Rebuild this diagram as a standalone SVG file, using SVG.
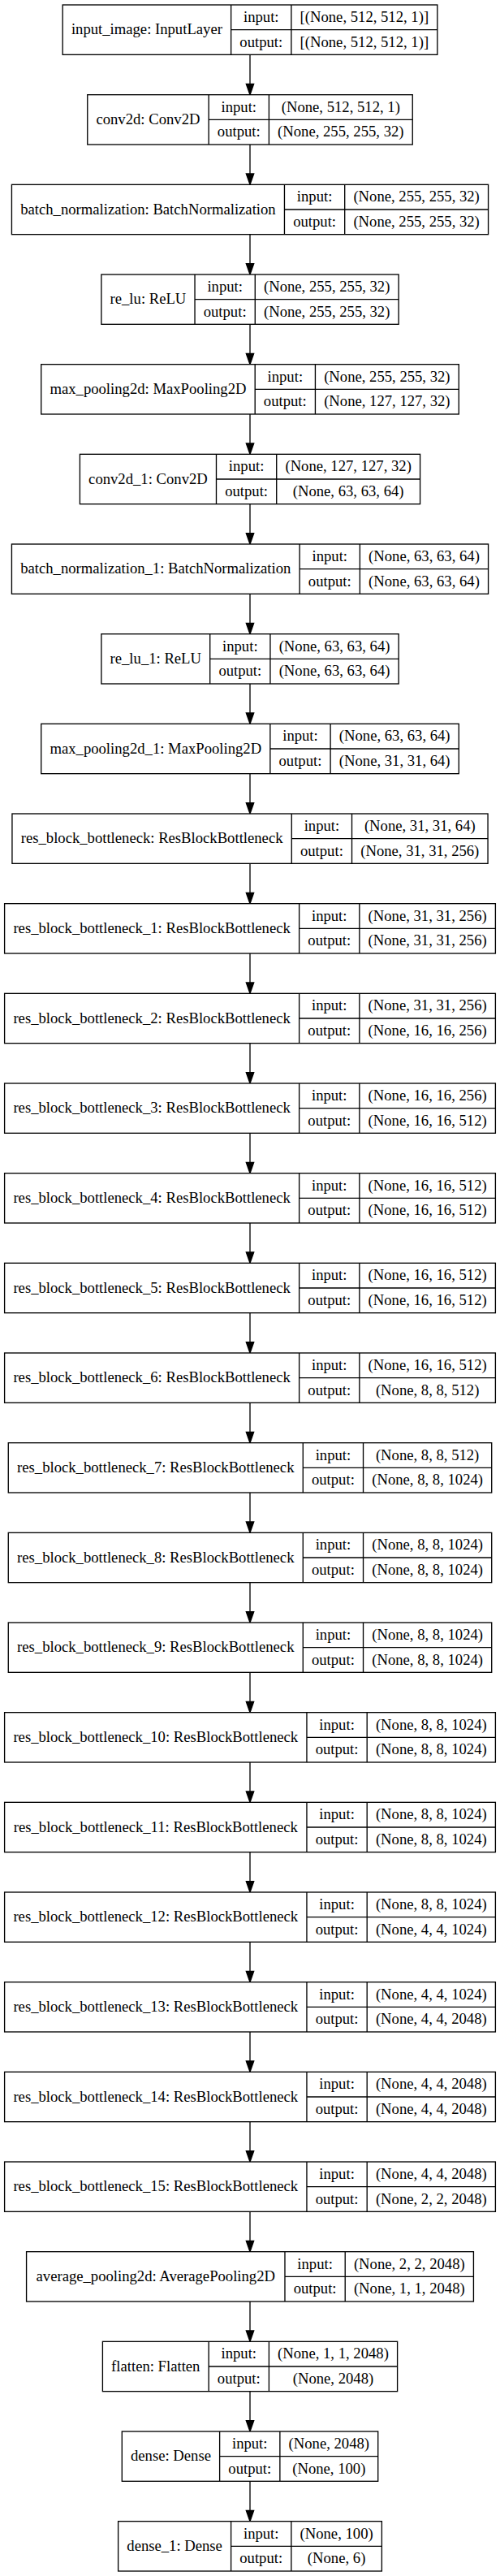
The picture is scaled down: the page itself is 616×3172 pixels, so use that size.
<svg xmlns="http://www.w3.org/2000/svg" width="616" height="3172" viewBox="0 0 616 3172">
<style>
.box{fill:#fff;stroke:#000;stroke-width:1.333}
.ln{fill:none;stroke:#000;stroke-width:1.333}
.edge{fill:none;stroke:#000;stroke-width:1.333}
text{font-family:"Liberation Serif","Times New Roman",serif;font-size:18.667px;text-anchor:middle;fill:#000}
</style>
<defs>
<marker id="arr" markerUnits="userSpaceOnUse" markerWidth="16" markerHeight="12" refX="0" refY="5" orient="auto" overflow="visible">
<path d="M0,0.33 L13.33,5 L0,9.67 Z" fill="#000" stroke="#000" stroke-width="1.333"/>
</marker>
</defs>
<rect x="0" y="0" width="616" height="3172" fill="#fff"/>
<g id="connectors">
<line class="edge" x1="308" y1="67.33" x2="308" y2="103.33" marker-end="url(#arr)"/>
<line class="edge" x1="308" y1="178" x2="308" y2="214" marker-end="url(#arr)"/>
<line class="edge" x1="308" y1="288.67" x2="308" y2="324.67" marker-end="url(#arr)"/>
<line class="edge" x1="308" y1="399.33" x2="308" y2="435.33" marker-end="url(#arr)"/>
<line class="edge" x1="308" y1="510" x2="308" y2="546" marker-end="url(#arr)"/>
<line class="edge" x1="308" y1="620.67" x2="308" y2="656.67" marker-end="url(#arr)"/>
<line class="edge" x1="308" y1="731.33" x2="308" y2="767.33" marker-end="url(#arr)"/>
<line class="edge" x1="308" y1="842" x2="308" y2="878" marker-end="url(#arr)"/>
<line class="edge" x1="308" y1="952.67" x2="308" y2="988.67" marker-end="url(#arr)"/>
<line class="edge" x1="308" y1="1063.33" x2="308" y2="1099.33" marker-end="url(#arr)"/>
<line class="edge" x1="308" y1="1174" x2="308" y2="1210" marker-end="url(#arr)"/>
<line class="edge" x1="308" y1="1284.67" x2="308" y2="1320.67" marker-end="url(#arr)"/>
<line class="edge" x1="308" y1="1395.33" x2="308" y2="1431.33" marker-end="url(#arr)"/>
<line class="edge" x1="308" y1="1506" x2="308" y2="1542" marker-end="url(#arr)"/>
<line class="edge" x1="308" y1="1616.67" x2="308" y2="1652.67" marker-end="url(#arr)"/>
<line class="edge" x1="308" y1="1727.33" x2="308" y2="1763.33" marker-end="url(#arr)"/>
<line class="edge" x1="308" y1="1838" x2="308" y2="1874" marker-end="url(#arr)"/>
<line class="edge" x1="308" y1="1948.67" x2="308" y2="1984.67" marker-end="url(#arr)"/>
<line class="edge" x1="308" y1="2059.33" x2="308" y2="2095.33" marker-end="url(#arr)"/>
<line class="edge" x1="308" y1="2170" x2="308" y2="2206" marker-end="url(#arr)"/>
<line class="edge" x1="308" y1="2280.67" x2="308" y2="2316.67" marker-end="url(#arr)"/>
<line class="edge" x1="308" y1="2391.33" x2="308" y2="2427.33" marker-end="url(#arr)"/>
<line class="edge" x1="308" y1="2502" x2="308" y2="2538" marker-end="url(#arr)"/>
<line class="edge" x1="308" y1="2612.67" x2="308" y2="2648.67" marker-end="url(#arr)"/>
<line class="edge" x1="308" y1="2723.33" x2="308" y2="2759.33" marker-end="url(#arr)"/>
<line class="edge" x1="308" y1="2834" x2="308" y2="2870" marker-end="url(#arr)"/>
<line class="edge" x1="308" y1="2944.67" x2="308" y2="2980.67" marker-end="url(#arr)"/>
<line class="edge" x1="308" y1="3055.33" x2="308" y2="3091.33" marker-end="url(#arr)"/>
</g>

<g id="input_image" transform="translate(0,6)">
<rect class="box" x="77.17" y="0" width="461.66" height="61.33"/>
<path class="ln" d="M284.63,0V61.33M358.87,0V61.33M284.63,30.67H538.83"/>
<text x="180.9" y="36.3">input_image: InputLayer</text>
<text x="321.75" y="20.9">input:</text><text x="321.75" y="51.6">output:</text>
<text x="448.85" y="20.9">[(None, 512, 512, 1)]</text><text x="448.85" y="51.6">[(None, 512, 512, 1)]</text>
</g>

<g id="conv2d" transform="translate(0,116.667)">
<rect class="box" x="107.75" y="0" width="400.5" height="61.33"/>
<path class="ln" d="M257.15,0V61.33M331.39,0V61.33M257.15,30.67H508.25"/>
<text x="182.45" y="36.3">conv2d: Conv2D</text>
<text x="294.27" y="20.9">input:</text><text x="294.27" y="51.6">output:</text>
<text x="419.82" y="20.9">(None, 512, 512, 1)</text><text x="419.82" y="51.6">(None, 255, 255, 32)</text>
</g>

<g id="batch_normalization" transform="translate(0,227.333)">
<rect class="box" x="14.43" y="0" width="587.13" height="61.33"/>
<path class="ln" d="M350.46,0V61.33M424.7,0V61.33M350.46,30.67H601.56"/>
<text x="182.45" y="36.3">batch_normalization: BatchNormalization</text>
<text x="387.58" y="20.9">input:</text><text x="387.58" y="51.6">output:</text>
<text x="513.13" y="20.9">(None, 255, 255, 32)</text><text x="513.13" y="51.6">(None, 255, 255, 32)</text>
</g>

<g id="re_lu" transform="translate(0,338)">
<rect class="box" x="124.86" y="0" width="366.27" height="61.33"/>
<path class="ln" d="M240.03,0V61.33M314.27,0V61.33M240.03,30.67H491.13"/>
<text x="182.45" y="36.3">re_lu: ReLU</text>
<text x="277.15" y="20.9">input:</text><text x="277.15" y="51.6">output:</text>
<text x="402.7" y="20.9">(None, 255, 255, 32)</text><text x="402.7" y="51.6">(None, 255, 255, 32)</text>
</g>

<g id="max_pooling2d" transform="translate(0,448.667)">
<rect class="box" x="50.7" y="0" width="514.59" height="61.33"/>
<path class="ln" d="M314.19,0V61.33M388.43,0V61.33M314.19,30.67H565.29"/>
<text x="182.45" y="36.3">max_pooling2d: MaxPooling2D</text>
<text x="351.31" y="20.9">input:</text><text x="351.31" y="51.6">output:</text>
<text x="476.86" y="20.9">(None, 255, 255, 32)</text><text x="476.86" y="51.6">(None, 127, 127, 32)</text>
</g>

<g id="conv2d_1" transform="translate(0,559.333)">
<rect class="box" x="98.41" y="0" width="419.17" height="61.33"/>
<path class="ln" d="M266.48,0V61.33M340.72,0V61.33M266.48,30.67H517.58"/>
<text x="182.45" y="36.3">conv2d_1: Conv2D</text>
<text x="303.6" y="20.9">input:</text><text x="303.6" y="51.6">output:</text>
<text x="429.15" y="20.9">(None, 127, 127, 32)</text><text x="429.15" y="51.6">(None, 63, 63, 64)</text>
</g>

<g id="batch_normalization_1" transform="translate(0,670)">
<rect class="box" x="14.43" y="0" width="587.14" height="61.33"/>
<path class="ln" d="M369.13,0V61.33M443.37,0V61.33M369.13,30.67H601.57"/>
<text x="191.78" y="36.3">batch_normalization_1: BatchNormalization</text>
<text x="406.25" y="20.9">input:</text><text x="406.25" y="51.6">output:</text>
<text x="522.47" y="20.9">(None, 63, 63, 64)</text><text x="522.47" y="51.6">(None, 63, 63, 64)</text>
</g>

<g id="re_lu_1" transform="translate(0,780.667)">
<rect class="box" x="124.86" y="0" width="366.28" height="61.33"/>
<path class="ln" d="M258.7,0V61.33M332.94,0V61.33M258.7,30.67H491.14"/>
<text x="191.78" y="36.3">re_lu_1: ReLU</text>
<text x="295.82" y="20.9">input:</text><text x="295.82" y="51.6">output:</text>
<text x="412.04" y="20.9">(None, 63, 63, 64)</text><text x="412.04" y="51.6">(None, 63, 63, 64)</text>
</g>

<g id="max_pooling2d_1" transform="translate(0,891.333)">
<rect class="box" x="50.7" y="0" width="514.6" height="61.33"/>
<path class="ln" d="M332.86,0V61.33M407.1,0V61.33M332.86,30.67H565.3"/>
<text x="191.78" y="36.3">max_pooling2d_1: MaxPooling2D</text>
<text x="369.98" y="20.9">input:</text><text x="369.98" y="51.6">output:</text>
<text x="486.2" y="20.9">(None, 63, 63, 64)</text><text x="486.2" y="51.6">(None, 31, 31, 64)</text>
</g>

<g id="res_block_bottleneck" transform="translate(0,1002)">
<rect class="box" x="14.94" y="0" width="586.11" height="61.33"/>
<path class="ln" d="M359.28,0V61.33M433.52,0V61.33M359.28,30.67H601.05"/>
<text x="187.11" y="36.3">res_block_bottleneck: ResBlockBottleneck</text>
<text x="396.4" y="20.9">input:</text><text x="396.4" y="51.6">output:</text>
<text x="517.29" y="20.9">(None, 31, 31, 64)</text><text x="517.29" y="51.6">(None, 31, 31, 256)</text>
</g>

<g id="res_block_bottleneck_1" transform="translate(0,1112.667)">
<rect class="box" x="5.61" y="0" width="604.78" height="61.33"/>
<path class="ln" d="M368.62,0V61.33M442.86,0V61.33M368.62,30.67H610.39"/>
<text x="187.12" y="36.3">res_block_bottleneck_1: ResBlockBottleneck</text>
<text x="405.74" y="20.9">input:</text><text x="405.74" y="51.6">output:</text>
<text x="526.63" y="20.9">(None, 31, 31, 256)</text><text x="526.63" y="51.6">(None, 31, 31, 256)</text>
</g>

<g id="res_block_bottleneck_2" transform="translate(0,1223.333)">
<rect class="box" x="5.61" y="0" width="604.78" height="61.33"/>
<path class="ln" d="M368.62,0V61.33M442.86,0V61.33M368.62,30.67H610.39"/>
<text x="187.12" y="36.3">res_block_bottleneck_2: ResBlockBottleneck</text>
<text x="405.74" y="20.9">input:</text><text x="405.74" y="51.6">output:</text>
<text x="526.63" y="20.9">(None, 31, 31, 256)</text><text x="526.63" y="51.6">(None, 16, 16, 256)</text>
</g>

<g id="res_block_bottleneck_3" transform="translate(0,1334)">
<rect class="box" x="5.61" y="0" width="604.78" height="61.33"/>
<path class="ln" d="M368.62,0V61.33M442.86,0V61.33M368.62,30.67H610.39"/>
<text x="187.12" y="36.3">res_block_bottleneck_3: ResBlockBottleneck</text>
<text x="405.74" y="20.9">input:</text><text x="405.74" y="51.6">output:</text>
<text x="526.63" y="20.9">(None, 16, 16, 256)</text><text x="526.63" y="51.6">(None, 16, 16, 512)</text>
</g>

<g id="res_block_bottleneck_4" transform="translate(0,1444.667)">
<rect class="box" x="5.61" y="0" width="604.78" height="61.33"/>
<path class="ln" d="M368.62,0V61.33M442.86,0V61.33M368.62,30.67H610.39"/>
<text x="187.12" y="36.3">res_block_bottleneck_4: ResBlockBottleneck</text>
<text x="405.74" y="20.9">input:</text><text x="405.74" y="51.6">output:</text>
<text x="526.63" y="20.9">(None, 16, 16, 512)</text><text x="526.63" y="51.6">(None, 16, 16, 512)</text>
</g>

<g id="res_block_bottleneck_5" transform="translate(0,1555.333)">
<rect class="box" x="5.61" y="0" width="604.78" height="61.33"/>
<path class="ln" d="M368.62,0V61.33M442.86,0V61.33M368.62,30.67H610.39"/>
<text x="187.12" y="36.3">res_block_bottleneck_5: ResBlockBottleneck</text>
<text x="405.74" y="20.9">input:</text><text x="405.74" y="51.6">output:</text>
<text x="526.63" y="20.9">(None, 16, 16, 512)</text><text x="526.63" y="51.6">(None, 16, 16, 512)</text>
</g>

<g id="res_block_bottleneck_6" transform="translate(0,1666)">
<rect class="box" x="5.61" y="0" width="604.78" height="61.33"/>
<path class="ln" d="M368.62,0V61.33M442.86,0V61.33M368.62,30.67H610.39"/>
<text x="187.12" y="36.3">res_block_bottleneck_6: ResBlockBottleneck</text>
<text x="405.74" y="20.9">input:</text><text x="405.74" y="51.6">output:</text>
<text x="526.63" y="20.9">(None, 16, 16, 512)</text><text x="526.63" y="51.6">(None, 8, 8, 512)</text>
</g>

<g id="res_block_bottleneck_7" transform="translate(0,1776.667)">
<rect class="box" x="10.27" y="0" width="595.45" height="61.33"/>
<path class="ln" d="M373.28,0V61.33M447.52,0V61.33M373.28,30.67H605.72"/>
<text x="191.78" y="36.3">res_block_bottleneck_7: ResBlockBottleneck</text>
<text x="410.4" y="20.9">input:</text><text x="410.4" y="51.6">output:</text>
<text x="526.62" y="20.9">(None, 8, 8, 512)</text><text x="526.62" y="51.6">(None, 8, 8, 1024)</text>
</g>

<g id="res_block_bottleneck_8" transform="translate(0,1887.333)">
<rect class="box" x="10.27" y="0" width="595.45" height="61.33"/>
<path class="ln" d="M373.28,0V61.33M447.52,0V61.33M373.28,30.67H605.72"/>
<text x="191.78" y="36.3">res_block_bottleneck_8: ResBlockBottleneck</text>
<text x="410.4" y="20.9">input:</text><text x="410.4" y="51.6">output:</text>
<text x="526.62" y="20.9">(None, 8, 8, 1024)</text><text x="526.62" y="51.6">(None, 8, 8, 1024)</text>
</g>

<g id="res_block_bottleneck_9" transform="translate(0,1998)">
<rect class="box" x="10.27" y="0" width="595.45" height="61.33"/>
<path class="ln" d="M373.28,0V61.33M447.52,0V61.33M373.28,30.67H605.72"/>
<text x="191.78" y="36.3">res_block_bottleneck_9: ResBlockBottleneck</text>
<text x="410.4" y="20.9">input:</text><text x="410.4" y="51.6">output:</text>
<text x="526.62" y="20.9">(None, 8, 8, 1024)</text><text x="526.62" y="51.6">(None, 8, 8, 1024)</text>
</g>

<g id="res_block_bottleneck_10" transform="translate(0,2108.667)">
<rect class="box" x="5.61" y="0" width="604.78" height="61.33"/>
<path class="ln" d="M377.95,0V61.33M452.19,0V61.33M377.95,30.67H610.39"/>
<text x="191.78" y="36.3">res_block_bottleneck_10: ResBlockBottleneck</text>
<text x="415.07" y="20.9">input:</text><text x="415.07" y="51.6">output:</text>
<text x="531.29" y="20.9">(None, 8, 8, 1024)</text><text x="531.29" y="51.6">(None, 8, 8, 1024)</text>
</g>

<g id="res_block_bottleneck_11" transform="translate(0,2219.333)">
<rect class="box" x="5.61" y="0" width="604.78" height="61.33"/>
<path class="ln" d="M377.95,0V61.33M452.19,0V61.33M377.95,30.67H610.39"/>
<text x="191.78" y="36.3">res_block_bottleneck_11: ResBlockBottleneck</text>
<text x="415.07" y="20.9">input:</text><text x="415.07" y="51.6">output:</text>
<text x="531.29" y="20.9">(None, 8, 8, 1024)</text><text x="531.29" y="51.6">(None, 8, 8, 1024)</text>
</g>

<g id="res_block_bottleneck_12" transform="translate(0,2330)">
<rect class="box" x="5.61" y="0" width="604.78" height="61.33"/>
<path class="ln" d="M377.95,0V61.33M452.19,0V61.33M377.95,30.67H610.39"/>
<text x="191.78" y="36.3">res_block_bottleneck_12: ResBlockBottleneck</text>
<text x="415.07" y="20.9">input:</text><text x="415.07" y="51.6">output:</text>
<text x="531.29" y="20.9">(None, 8, 8, 1024)</text><text x="531.29" y="51.6">(None, 4, 4, 1024)</text>
</g>

<g id="res_block_bottleneck_13" transform="translate(0,2440.667)">
<rect class="box" x="5.61" y="0" width="604.78" height="61.33"/>
<path class="ln" d="M377.95,0V61.33M452.19,0V61.33M377.95,30.67H610.39"/>
<text x="191.78" y="36.3">res_block_bottleneck_13: ResBlockBottleneck</text>
<text x="415.07" y="20.9">input:</text><text x="415.07" y="51.6">output:</text>
<text x="531.29" y="20.9">(None, 4, 4, 1024)</text><text x="531.29" y="51.6">(None, 4, 4, 2048)</text>
</g>

<g id="res_block_bottleneck_14" transform="translate(0,2551.333)">
<rect class="box" x="5.61" y="0" width="604.78" height="61.33"/>
<path class="ln" d="M377.95,0V61.33M452.19,0V61.33M377.95,30.67H610.39"/>
<text x="191.78" y="36.3">res_block_bottleneck_14: ResBlockBottleneck</text>
<text x="415.07" y="20.9">input:</text><text x="415.07" y="51.6">output:</text>
<text x="531.29" y="20.9">(None, 4, 4, 2048)</text><text x="531.29" y="51.6">(None, 4, 4, 2048)</text>
</g>

<g id="res_block_bottleneck_15" transform="translate(0,2662)">
<rect class="box" x="5.61" y="0" width="604.78" height="61.33"/>
<path class="ln" d="M377.95,0V61.33M452.19,0V61.33M377.95,30.67H610.39"/>
<text x="191.78" y="36.3">res_block_bottleneck_15: ResBlockBottleneck</text>
<text x="415.07" y="20.9">input:</text><text x="415.07" y="51.6">output:</text>
<text x="531.29" y="20.9">(None, 4, 4, 2048)</text><text x="531.29" y="51.6">(None, 2, 2, 2048)</text>
</g>

<g id="average_pooling2d" transform="translate(0,2772.667)">
<rect class="box" x="32.58" y="0" width="550.84" height="61.33"/>
<path class="ln" d="M350.98,0V61.33M425.22,0V61.33M350.98,30.67H583.42"/>
<text x="191.78" y="36.3">average_pooling2d: AveragePooling2D</text>
<text x="388.1" y="20.9">input:</text><text x="388.1" y="51.6">output:</text>
<text x="504.32" y="20.9">(None, 2, 2, 2048)</text><text x="504.32" y="51.6">(None, 1, 1, 2048)</text>
</g>

<g id="flatten" transform="translate(0,2883.333)">
<rect class="box" x="126.41" y="0" width="363.18" height="61.33"/>
<path class="ln" d="M257.15,0V61.33M331.39,0V61.33M257.15,30.67H489.59"/>
<text x="191.78" y="36.3">flatten: Flatten</text>
<text x="294.27" y="20.9">input:</text><text x="294.27" y="51.6">output:</text>
<text x="410.49" y="20.9">(None, 1, 1, 2048)</text><text x="410.49" y="51.6">(None, 2048)</text>
</g>

<g id="dense" transform="translate(0,2994)">
<rect class="box" x="150.28" y="0" width="315.44" height="61.33"/>
<path class="ln" d="M270.62,0V61.33M344.86,0V61.33M270.62,30.67H465.72"/>
<text x="210.45" y="36.3">dense: Dense</text>
<text x="307.74" y="20.9">input:</text><text x="307.74" y="51.6">output:</text>
<text x="405.29" y="20.9">(None, 2048)</text><text x="405.29" y="51.6">(None, 100)</text>
</g>

<g id="dense_1" transform="translate(0,3104.667)">
<rect class="box" x="145.61" y="0" width="324.77" height="61.33"/>
<path class="ln" d="M284.61,0V61.33M358.85,0V61.33M284.61,30.67H470.38"/>
<text x="215.11" y="36.3">dense_1: Dense</text>
<text x="321.73" y="20.9">input:</text><text x="321.73" y="51.6">output:</text>
<text x="414.62" y="20.9">(None, 100)</text><text x="414.62" y="51.6">(None, 6)</text>
</g>
</svg>
